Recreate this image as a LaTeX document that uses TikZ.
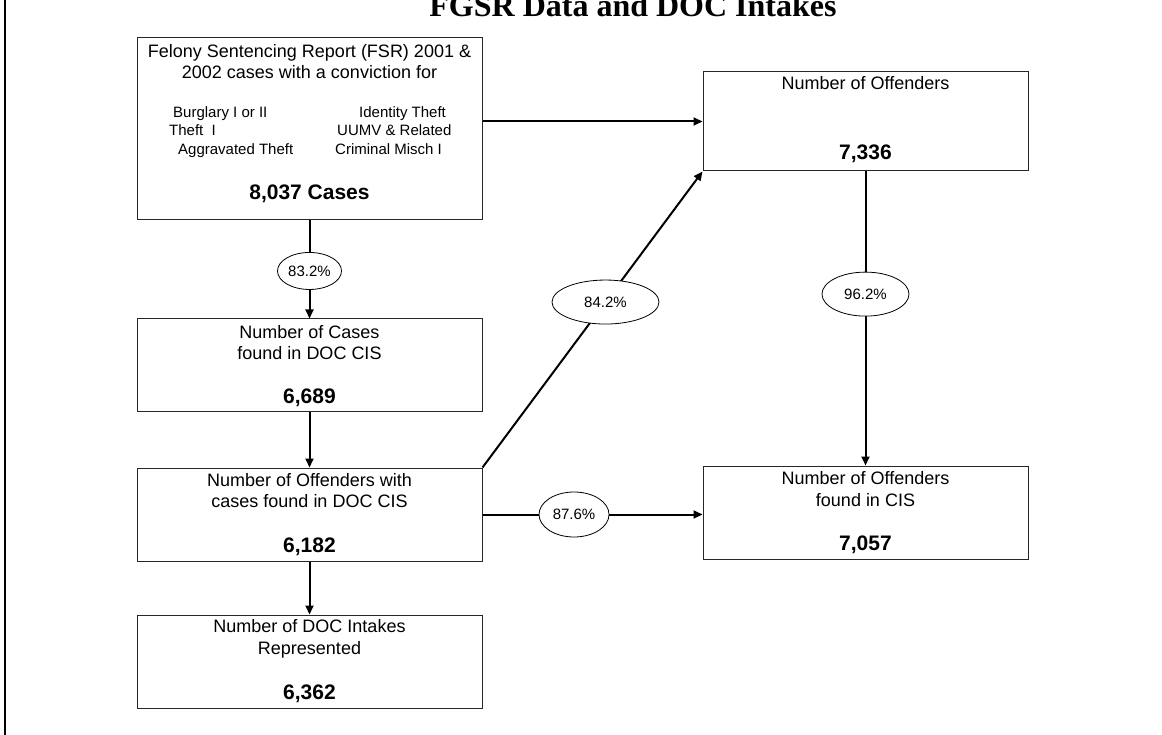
\documentclass[tikz,border=0pt]{standalone}
\usepackage{fontspec}
\setmainfont{Liberation Sans}
\newfontfamily\titlefont{Liberation Serif}
\usetikzlibrary{arrows.meta,shapes.geometric}
\tikzset{
  box/.style={draw=black!85, line width=1pt, rectangle, inner sep=0pt},
  lbl/.style={anchor=base, inner sep=0pt, font=\fontsize{18}{21}\selectfont},
  lbll/.style={anchor=base west, inner sep=0pt, font=\fontsize{15}{18}\selectfont},
  num/.style={anchor=base, inner sep=0pt, font=\fontsize{21}{24}\selectfont\bfseries},
  flow/.style={line width=2pt, -{Triangle[length=9pt,width=8pt]}},
  pct/.style={ellipse, draw=black, line width=0.8pt, fill=white, inner sep=0pt, font=\fontsize{15}{18}\selectfont},
}
\begin{document}
\begin{tikzpicture}[x=1pt,y=-1pt]
\path[use as bounding box] (0,0) rectangle (1162,735);
\draw[line width=2pt] (5,-2) -- (5,737);
\node[anchor=base, inner sep=0pt, font=\titlefont\fontsize{32}{36}\selectfont\bfseries] (title) at (633,17) {FGSR Data and DOC Intakes};

% boxes
\node[box, minimum width=345pt, minimum height=182pt] (fsr) at (309.5,129) {};
\node[box, minimum width=345pt, minimum height=92pt] (cases) at (309.5,365) {};
\node[box, minimum width=345pt, minimum height=93pt] (offwith) at (309.5,514.5) {};
\node[box, minimum width=345pt, minimum height=93pt] (intakes) at (309.5,661.5) {};
\node[box, minimum width=325pt, minimum height=99pt] (off) at (865.5,121.5) {};
\node[box, minimum width=325pt, minimum height=93pt] (cis) at (865.5,512.5) {};

% FSR texts
\node[lbl] (f1) at (309.5,57.5) {Felony Sentencing Report (FSR) 2001 \&};
\node[lbl] (f2) at (309.5,78.5) {2002 cases with a conviction for};
\node[lbll] (c1) at (173,117.5) {Burglary I or II};
\node[lbll] (c2) at (169,135.5) {Theft\ \ I};
\node[lbll] (c3) at (178,154.5) {Aggravated Theft};
\node[lbll] (c4) at (359,117.5) {Identity Theft};
\node[lbll] (c5) at (337,135.5) {UUMV \& Related};
\node[lbll] (c6) at (335,154.5) {Criminal Misch I};
\node[num] (fn) at (309.5,199.5) {8,037 Cases};

% cases texts
\node[lbl] (k1) at (309.5,338.5) {Number of Cases};
\node[lbl] (k2) at (309.5,359.5) {found in DOC CIS};
\node[num] (kn) at (309.5,403.5) {6,689};

% offenders with cases
\node[lbl] (o1) at (309.5,486.5) {Number of Offenders with};
\node[lbl] (o2) at (309.5,507.5) {cases found in DOC CIS};
\node[num] (on) at (309.5,552.5) {6,182};

% intakes
\node[lbl] (i1) at (309.5,632.5) {Number of DOC Intakes};
\node[lbl] (i2) at (309.5,654.5) {Represented};
\node[num] (in) at (309.5,699.5) {6,362};

% number of offenders
\node[lbl] (n1) at (865.5,89.5) {Number of Offenders};
\node[num] (nn) at (865.5,159.5) {7,336};

% found in CIS
\node[lbl] (s1) at (865.5,484.5) {Number of Offenders};
\node[lbl] (s2) at (865.5,506.5) {found in CIS};
\node[num] (sn) at (865.5,550.5) {7,057};

% connectors
\draw[flow] (fsr.south) -- node[pct, pos=0.515, minimum width=64pt, minimum height=37pt] (e1) {83.2\%} (cases.north);
\draw[flow] (cases.south) -- (offwith.north);
\draw[flow] (offwith.south) -- (intakes.north);
\draw[flow] (fsr.east |- off.west) -- (off.west);
\draw[flow] (offwith.north east) -- node[pct, pos=0.559, minimum width=107pt, minimum height=44pt] (e2) {84.2\%} (off.south west);
\draw[flow] (offwith.east) -- node[pct, pos=0.416, minimum width=70pt, minimum height=45pt] (e3) {87.6\%} (offwith.east -| cis.west);
\draw[flow] (off.south) -- node[pct, pos=0.417, minimum width=87pt, minimum height=44pt] (e4) {96.2\%} (cis.north);
\end{tikzpicture}
\end{document}
